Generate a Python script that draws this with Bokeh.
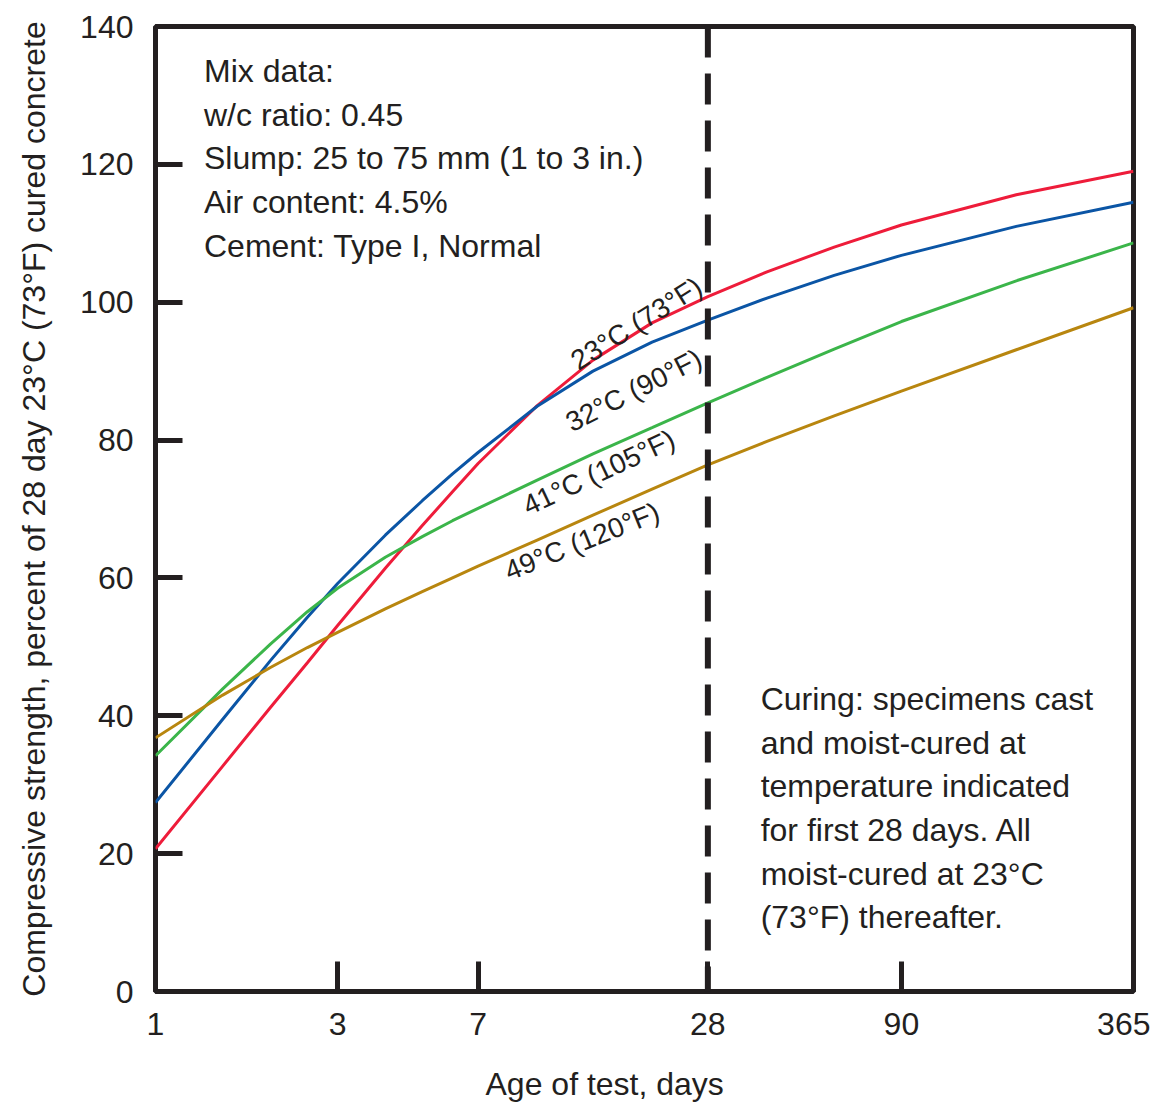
import math
from bokeh.plotting import figure
from bokeh.models import FixedTicker, Span, Label, Range1d, Title
from bokeh.embed import file_html
from bokeh.resources import INLINE

# ---- data ----
days = [1, 1.5, 2, 2.5, 3, 4, 5, 6, 7, 10, 14, 20, 28, 40, 60, 90, 180, 365]
s23 = [20.7, 32.7, 41.2, 47.7, 53.1, 61.4, 67.6, 72.5, 76.6, 85.0, 91.6, 97.0, 100.8, 104.4, 108.0, 111.2, 115.6, 119.0]
s32 = [27.4, 39.5, 48.0, 54.3, 59.2, 66.2, 71.2, 75.1, 78.2, 84.9, 90.0, 94.2, 97.4, 100.6, 103.9, 106.8, 111.0, 114.5]
s41 = [34.2, 43.9, 50.4, 55.1, 58.5, 63.0, 66.0, 68.3, 70.1, 74.2, 78.0, 81.8, 85.4, 89.1, 93.2, 97.2, 103.1, 108.6]
s49 = [36.8, 43.0, 47.0, 49.9, 52.1, 55.5, 58.0, 60.0, 61.7, 65.5, 69.1, 72.9, 76.4, 79.8, 83.5, 87.1, 93.1, 99.2]

series_names = ["23°C (73°F)", "32°C (90°F)", "41°C (105°F)", "49°C (120°F)"]
series_colors = ["#EE1C3A", "#0B55A5", "#3BB54A", "#B8860F"]

x_ticks = [1, 3, 7, 28, 90, 365]
x_tick_labels = ["1", "3", "7", "28", "90", "365"]
y_ticks = [0, 20, 40, 60, 80, 100, 120, 140]

# curve label placement (day, value, angle in degrees)
label_x = [18.2, 17.9, 14.5, 13.1]
label_y = [96.9, 87.2, 75.3, 65.3]
label_angle = [32, 27, 25, 22]

x_title = "Age of test, days"
y_title = "Compressive strength, percent of 28 day 23°C (73°F) cured concrete"
mix_text = "Mix data:\nw/c ratio: 0.45\nSlump: 25 to 75 mm (1 to 3 in.)\nAir content: 4.5%\nCement: Type I, Normal"
curing_text = ("Curing: specimens cast\nand moist-cured at\ntemperature indicated\n"
               "for first 28 days. All\nmoist-cured at 23°C\n(73°F) thereafter.")

INK = "#231F20"
FONT = "Liberation Sans"

p = figure(width=1150, height=1103,
           x_axis_type="log",
           x_range=Range1d(1, 365), y_range=Range1d(0, 140),
           output_backend="svg", toolbar_location=None,
           min_border_left=155, min_border_right=17,
           min_border_top=26, min_border_bottom=112)

p.background_fill_color = "white"
p.border_fill_color = "white"
p.grid.visible = False
p.outline_line_color = INK
p.outline_line_width = 5
p.outline_line_alpha = 1.0

# axes
for ax in (p.xaxis[0], p.yaxis[0]):
    ax.axis_line_color = None
    ax.major_tick_out = 0
    ax.major_tick_line_width = 5
    ax.major_tick_line_color = INK
    ax.minor_tick_line_color = None
    ax.major_label_text_font = FONT
    ax.major_label_text_font_size = "32px"
    ax.major_label_text_color = INK
    ax.axis_label_text_font = FONT
    ax.axis_label_text_font_size = "32px"
    ax.axis_label_text_font_style = "normal"
    ax.axis_label_text_color = INK

p.xaxis.ticker = FixedTicker(ticks=x_ticks, minor_ticks=[])
p.xaxis.major_label_overrides = {t: s for t, s in zip(x_ticks, x_tick_labels)}
p.xaxis.major_tick_in = 30
p.xaxis.major_label_standoff = 21
# blank spacer label so the title below sits lower
p.xaxis.axis_label = " "
p.xaxis.axis_label_text_font_size = "2px"
p.xaxis.axis_label_standoff = 19

p.yaxis.ticker = FixedTicker(ticks=y_ticks, minor_ticks=[])
p.yaxis.major_tick_in = 27
p.yaxis.major_label_standoff = 22
p.yaxis.axis_label = y_title
p.yaxis.axis_label_standoff = 25

# x-axis title, set left of centre as in the original
p.add_layout(Title(text=x_title, align="left", offset=330, standoff=4,
                   text_font=FONT, text_font_size="32px", text_font_style="normal",
                   text_color=INK), "below")

# curves
for vals, col in zip([s23, s32, s41, s49], series_colors):
    p.line(days, vals, line_color=col, line_width=3)

# 28-day dashed reference
p.add_layout(Span(location=28, dimension="height", line_color=INK,
                  line_width=6, line_dash="31 16"))

# curve labels
for name, lx, ly, ang in zip(series_names, label_x, label_y, label_angle):
    p.add_layout(Label(x=lx, y=ly, text=name, angle=math.radians(ang),
                       text_align="center", text_baseline="middle",
                       text_font=FONT, text_font_size="28px", text_color=INK))

# text blocks
p.add_layout(Label(x=1.34, y=136.1, text=mix_text, text_align="left",
                   text_baseline="top", text_font=FONT, text_font_size="32px",
                   text_color=INK, text_line_height=1.21))
p.add_layout(Label(x=38.5, y=45.0, text=curing_text, text_align="left",
                   text_baseline="top", text_font=FONT, text_font_size="32px",
                   text_color=INK, text_line_height=1.21))

open("out.html", "w").write(file_html(p, INLINE))
